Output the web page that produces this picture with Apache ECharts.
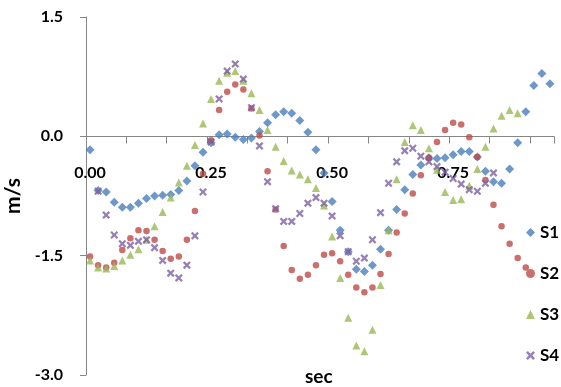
<!DOCTYPE html>
<html>
<head>
<meta charset="utf-8">
<script src="https://cdn.jsdelivr.net/npm/echarts@6/dist/echarts.min.js"></script>
<style>
html,body{margin:0;padding:0;background:#fff;}
#chart{width:561px;height:387px;}
</style>
</head>
<body>
<div id="chart"></div>
<script>
// time categories (s), 60 samples per second
const times = ['0.00','0.02','0.03','0.05','0.07','0.08','0.10','0.12','0.13','0.15',
'0.17','0.18','0.20','0.22','0.23','0.25','0.27','0.28','0.30','0.32',
'0.33','0.35','0.37','0.38','0.40','0.42','0.43','0.45','0.47','0.48',
'0.50','0.52','0.53','0.55','0.57','0.58','0.60','0.62','0.63','0.65',
'0.67','0.68','0.70','0.72','0.73','0.75','0.77','0.78','0.80','0.82',
'0.83','0.85','0.87','0.88','0.90','0.92','0.93','0.95'];

const seriesNames = ['S1','S2','S3','S4'];

const s1 = [-0.17,-0.68,-0.70,-0.83,-0.89,-0.89,-0.84,-0.78,-0.75,-0.74,
-0.73,-0.68,-0.56,-0.37,-0.20,-0.08,0.02,0.03,-0.01,-0.04,
-0.02,0.06,0.17,0.27,0.31,0.29,0.20,0.05,-0.17,-0.46,
-0.82,-1.18,-1.45,-1.67,-1.70,-1.62,-1.42,-1.18,-0.92,-0.67,
-0.48,-0.36,-0.27,-0.28,-0.27,-0.23,-0.19,-0.19,-0.26,-0.44,
-0.57,-0.59,-0.41,-0.08,0.31,0.64,0.79,0.66];

const s2 = [-1.51,-1.62,-1.65,-1.59,-1.43,-1.28,-1.18,-1.19,-1.30,-1.44,
-1.54,-1.51,-1.30,-0.94,-0.47,-0.05,0.33,0.56,0.65,0.59,
0.35,0.01,-0.44,-0.92,-1.38,-1.68,-1.79,-1.74,-1.62,-1.49,
-1.47,-1.57,-1.74,-1.90,-1.96,-1.90,-1.73,-1.48,-1.21,-0.97,
-0.72,-0.49,-0.27,-0.07,0.08,0.17,0.15,-0.01,-0.26,-0.55,
-0.86,-1.13,-1.35,-1.53,-1.65,null,null,null];

const s3 = [-1.56,-1.65,-1.66,-1.63,-1.56,-1.49,-1.42,-1.30,-1.13,-0.95,
-0.77,-0.58,-0.37,-0.11,0.16,0.47,0.70,0.80,0.82,0.70,
0.54,0.33,0.08,-0.13,-0.31,-0.43,-0.48,-0.54,-0.65,-0.87,
-1.26,-1.78,-2.28,-2.63,-2.70,-2.43,-1.87,-1.18,-0.54,-0.07,
0.14,0.08,-0.15,-0.42,-0.70,-0.80,-0.79,-0.62,-0.41,-0.13,
0.10,0.26,0.33,0.29,null,null,null,null];

const s4 = [null,-0.69,-0.99,-1.24,-1.35,-1.37,-1.32,-1.30,-1.40,-1.56,
-1.72,-1.78,-1.62,-1.25,-0.70,-0.07,0.47,0.82,0.91,0.72,
0.36,-0.12,-0.57,-0.91,-1.07,-1.07,-0.97,-0.84,-0.77,-0.84,
-1.00,-1.25,-1.45,-1.57,-1.53,-1.30,-0.96,-0.59,-0.32,-0.18,
-0.15,-0.25,-0.32,-0.38,-0.45,-0.53,-0.60,-0.67,-0.69,-0.59,
-0.46,null,null,null,null,null,null,null];

const yTicks = {min: -3.0, max: 1.5, interval: 1.5};

const FONT = 'Lato, "Liberation Sans", sans-serif';
const xSym = 'path://M0,2 L2,0 L5,3 L8,0 L10,2 L7,5 L10,8 L8,10 L5,7 L2,10 L0,8 L3,5 Z';

const chart = echarts.init(document.getElementById('chart'), null, {renderer: 'canvas'});
const mk = (name, data, symbol, size, color) => ({
  name, type: 'scatter', data, symbol, symbolSize: size, z: 3,
  itemStyle: {color}, emphasis: {disabled: true}
});

const gridTop = 17, gridBottom = 12, plotH = 387 - gridTop - gridBottom;
// offset that lifts the category axis up to the value 0 (half-pixel so the 1px line is crisp)
const zeroOffset = Math.round(plotH * (0 - yTicks.min) / (yTicks.max - yTicks.min)) - 0.5;
const AXIS_GRAY = '#868686';

chart.setOption({
  animation: false,
  backgroundColor: '#fff',
  grid: {left: 86, right: 7, top: gridTop, bottom: gridBottom, containLabel: false, outerBoundsMode: 'none'},
  legend: {
    orient: 'vertical', left: 521, top: 219, itemGap: 24, itemWidth: 9, itemHeight: 9,
    data: seriesNames,
    textStyle: {fontFamily: FONT, fontSize: 17, fontWeight: 'bold', color: '#000'}
  },
  xAxis: {
    type: 'category', data: times, boundaryGap: true, position: 'bottom', offset: -zeroOffset,
    axisLine: {show: true, onZero: false, lineStyle: {color: AXIS_GRAY, width: 1}},
    axisTick: {show: true, interval: 4, length: 7, lineStyle: {color: AXIS_GRAY, width: 1}},
    axisLabel: {interval: 14, margin: 28, color: '#000', fontFamily: FONT, fontSize: 16, fontWeight: 'bold'},
    splitLine: {show: false}
  },
  yAxis: {
    type: 'value', min: yTicks.min, max: yTicks.max, interval: yTicks.interval,
    name: 'm/s', nameLocation: 'middle', nameGap: 56,
    nameTextStyle: {fontFamily: FONT, fontSize: 21, fontWeight: 'bold', color: '#000'},
    axisLine: {show: true, lineStyle: {color: AXIS_GRAY, width: 1}},
    axisTick: {show: true, length: 6, lineStyle: {color: AXIS_GRAY, width: 1}},
    axisLabel: {margin: 23, color: '#000', fontFamily: FONT, fontSize: 16, fontWeight: 'bold',
      formatter: v => v.toFixed(1)},
    splitLine: {show: false}
  },
  graphic: [{
    type: 'text', left: 305, top: 367,
    style: {text: 'sec', font: 'bold 19px ' + FONT, fill: '#000'}
  }],
  series: [
    mk('S1', s1, 'diamond', 9, '#4A7EBB'),
    mk('S2', s2, 'circle', 6.5, '#BE4B48'),
    mk('S3', s3, 'triangle', 8, '#98B954'),
    mk('S4', s4, xSym, 8, '#7D60A0')
  ]
});
</script>
</body>
</html>
